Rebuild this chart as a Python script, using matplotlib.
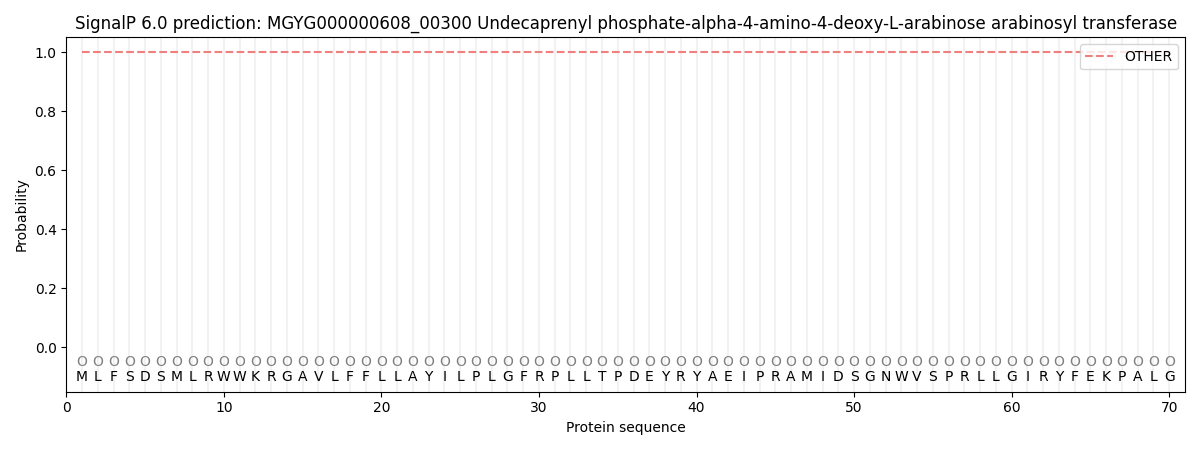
import matplotlib
matplotlib.use("Agg")
import matplotlib.pyplot as plt
import numpy as np

sequence = list("MLFSDSMLRWWKRGAVLFFLLAYILPLGFRPLLTPDEYRYAEIPRAMIDSGNWVSPRLLGIRYFEKPALG")
positions = list(range(1, len(sequence) + 1))
labels = ["O"] * len(sequence)
other_prob = [1.0] * len(sequence)

fig, ax = plt.subplots(figsize=(12, 4.5), dpi=100)
for p in positions:
    ax.axvline(p, color="#f2f2f2", linewidth=1.5, zorder=0)
ax.plot(positions, other_prob, linestyle="--", color="#f08080", label="OTHER", linewidth=1.5)
for p, aa, lab in zip(positions, sequence, labels):
    ax.text(p, -0.05, lab, ha="center", va="center", color="grey", fontsize=10)
    ax.text(p, -0.1, aa, ha="center", va="center", color="black", fontsize=10)
ax.set_xlim(0, 71)
ax.set_ylim(-0.15, 1.05)
ax.set_xlabel("Protein sequence")
ax.set_ylabel("Probability")
ax.set_title("SignalP 6.0 prediction: MGYG000000608_00300 Undecaprenyl phosphate-alpha-4-amino-4-deoxy-L-arabinose arabinosyl transferase")
ax.legend(loc="upper right")
fig.tight_layout()
fig.savefig("out.png")
